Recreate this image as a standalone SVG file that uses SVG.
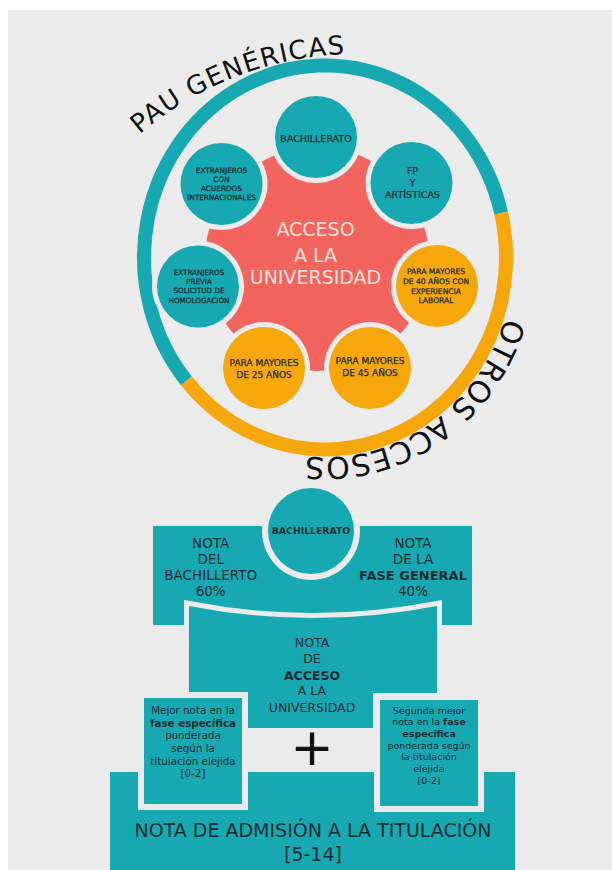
<svg xmlns="http://www.w3.org/2000/svg" width="612" height="870" viewBox="0 0 612 870">
<style>
text{font-family:"DejaVu Sans","Liberation Sans",sans-serif;text-anchor:middle;fill:#1b2b33}
.b{font-weight:bold}
.tl{fill:#17a9b1}
.or{fill:#f6a70c}
.bg{fill:#ebebeb}
.ring{fill:none;stroke-width:14}
.arc{text-anchor:start;fill:#111}
.ctr{fill:#fbe2da;font-size:19px}
.c{stroke:#1b2b33;stroke-width:0.25}
</style>
<defs>
<path id="pauPath" d="M139.6 134.4 A334 334 0 0 1 471.2 74.1"/>
<path id="otrosPath" d="M505.2 317.6 A189 200 0 0 1 180.2 386.1"/>
</defs>
<rect width="612" height="870" fill="#fff"/>
<rect x="8" y="10" width="604" height="860" class="bg"/>

<g id="ring">
<path d="M186.4 380.9 A181 192 0 1 1 501.1 213.0" class="ring" stroke="#17a9b1"/>
<path d="M501.1 213.0 A181 192 0 0 1 186.4 380.9" class="ring" stroke="#f6a70c"/>
<text class="arc" font-size="26" letter-spacing="1.2"><textPath href="#pauPath">PAU GENÉRICAS</textPath></text>
<text class="arc" font-size="30" letter-spacing="0.5"><textPath href="#otrosPath">OTROS ACCESOS</textPath></text>
</g>

<g id="acceso-universidad">
<circle cx="317" cy="259" r="112" fill="#f4645f"/>
<text class="ctr" x="315.5" y="236">ACCESO</text>
<text class="ctr" x="315.5" y="261.5">A LA</text>
<text class="ctr" x="315.5" y="284">UNIVERSIDAD</text>
</g>

<g id="n-bachillerato">
<circle cx="316" cy="137" r="46" class="bg"/><circle cx="316" cy="137" r="41" class="tl"/>
<text class="c" x="316" y="141.5" font-size="9.5">BACHILLERATO</text>
</g>
<g id="n-fp">
<circle cx="411.5" cy="183" r="46" class="bg"/><circle cx="411.5" cy="183" r="41" class="tl"/>
<text class="c" x="412.5" y="174" font-size="9.5">FP</text>
<text class="c" x="412.5" y="186" font-size="9.5">Y</text>
<text class="c" x="412.5" y="198" font-size="9.5">ARTÍSTICAS</text>
</g>
<g id="n-extranjeros-acuerdos">
<circle cx="221.5" cy="184" r="46" class="bg"/><circle cx="221.5" cy="184" r="41" class="tl"/>
<text class="c" x="221.5" y="172.7" font-size="7.3">EXTRANJEROS</text>
<text class="c" x="221.5" y="182" font-size="7.3">CON</text>
<text class="c" x="221.5" y="191.4" font-size="7.3">ACUERDOS</text>
<text class="c" x="221.5" y="200.4" font-size="7.3">INTERNACIONALES</text>
</g>
<g id="n-extranjeros-homologacion">
<circle cx="198" cy="286.5" r="46" class="bg"/><circle cx="198" cy="286.5" r="41" class="tl"/>
<text class="c" x="199" y="275" font-size="7.2">EXTRANJEROS</text>
<text class="c" x="199" y="284.4" font-size="7.2">PREVIA</text>
<text class="c" x="199" y="293.4" font-size="7.2">SOLICITUD DE</text>
<text class="c" x="199" y="302.7" font-size="7.2">HOMOLOGACIÓN</text>
</g>
<g id="n-mayores-40">
<circle cx="437" cy="286" r="46" class="bg"/><circle cx="437" cy="286" r="41" class="or"/>
<text class="c" x="436" y="273.5" font-size="7.6">PARA MAYORES</text>
<text class="c" x="436" y="283.5" font-size="7.6">DE 40 AÑOS CON</text>
<text class="c" x="436" y="293.5" font-size="7.6">EXPERIENCIA</text>
<text class="c" x="436" y="303" font-size="7.6">LABORAL</text>
</g>
<g id="n-mayores-25">
<circle cx="264" cy="368" r="46" class="bg"/><circle cx="264" cy="368" r="41" class="or"/>
<text class="c" x="264" y="366" font-size="9">PARA MAYORES</text>
<text class="c" x="264" y="378" font-size="9">DE 25 AÑOS</text>
</g>
<g id="n-mayores-45">
<circle cx="370" cy="368" r="46" class="bg"/><circle cx="370" cy="368" r="41" class="or"/>
<text class="c" x="370" y="363.5" font-size="9">PARA MAYORES</text>
<text class="c" x="370" y="375.5" font-size="9">DE 45 AÑOS</text>
</g>

<g id="connectors"></g>

<g id="nota-bachillerato-fase-general">
<rect x="153" y="526" width="319" height="99" class="tl"/>
<text x="210.7" y="547.5" font-size="13.5">NOTA</text>
<text x="210.7" y="563.5" font-size="13.5">DEL</text>
<text x="210.7" y="579.5" font-size="13.5">BACHILLERTO</text>
<text x="210.7" y="595.5" font-size="13.5">60%</text>
<text x="413" y="547.5" font-size="13.5">NOTA</text>
<text x="413" y="563.5" font-size="13.5">DE LA</text>
<text x="413" y="579.5" font-size="13" class="b">FASE GENERAL</text>
<text x="413" y="595.5" font-size="13.5">40%</text>
</g>

<g id="nota-acceso">
<path d="M189 606 A647 647 0 0 0 437 606 V693 H373 V728 H247 V693 H189 Z" class="tl" stroke="#ebebeb" stroke-width="10" paint-order="stroke"/>
<text x="312" y="646.5" font-size="12.5">NOTA</text>
<text x="312" y="662.5" font-size="12.5">DE</text>
<text x="312" y="679.5" font-size="12.5" class="b">ACCESO</text>
<text x="312" y="695" font-size="12.5">A LA</text>
<text x="312" y="711.5" font-size="12.5">UNIVERSIDAD</text>
</g>

<g id="n-bachillerato-2">
<circle cx="311" cy="531" r="49" class="bg"/><circle cx="311" cy="531" r="43" class="tl"/>
<text x="311" y="533.5" font-size="9.3" class="b">BACHILLERATO</text>
</g>

<g id="nota-admision">
<rect x="110" y="772" width="405" height="98" class="tl"/>
<text x="313" y="837" font-size="19">NOTA DE ADMISIÓN A LA TITULACIÓN</text>
<text x="313" y="860.5" font-size="19">[5-14]</text>
</g>

<g id="fase-especifica-1">
<rect x="138" y="692" width="110" height="118" class="bg"/>
<rect x="144" y="698" width="98" height="106" class="tl"/>
<text x="193" y="713.8" font-size="10.3">Mejor nota en la</text>
<text x="193" y="726.5" font-size="10.3" class="b">fase específica</text>
<text x="193" y="738.8" font-size="10.3">ponderada</text>
<text x="193" y="752" font-size="10.3">según la</text>
<text x="193" y="764.8" font-size="10.3">titulación elejida</text>
<text x="193" y="777" font-size="10.3">[0-2]</text>
</g>

<g id="fase-especifica-2">
<rect x="374" y="694" width="110" height="118" class="bg"/>
<rect x="380" y="700" width="98" height="106" class="tl"/>
<text x="429" y="713.5" font-size="9.5">Segunda mejor</text>
<text x="429" y="725.2" font-size="9.5">nota en la <tspan class="b">fase</tspan></text>
<text x="429" y="736.9" font-size="9.5" class="b">específica</text>
<text x="429" y="748.6" font-size="9.5">ponderada según</text>
<text x="429" y="760.3" font-size="9.5">la titulación</text>
<text x="429" y="772" font-size="9.5">elejida</text>
<text x="429" y="783.7" font-size="9.5">[0-2]</text>
</g>

<g id="plus">
<text x="312" y="764.5" font-size="52" style="fill:#111">+</text>
</g>
</svg>
